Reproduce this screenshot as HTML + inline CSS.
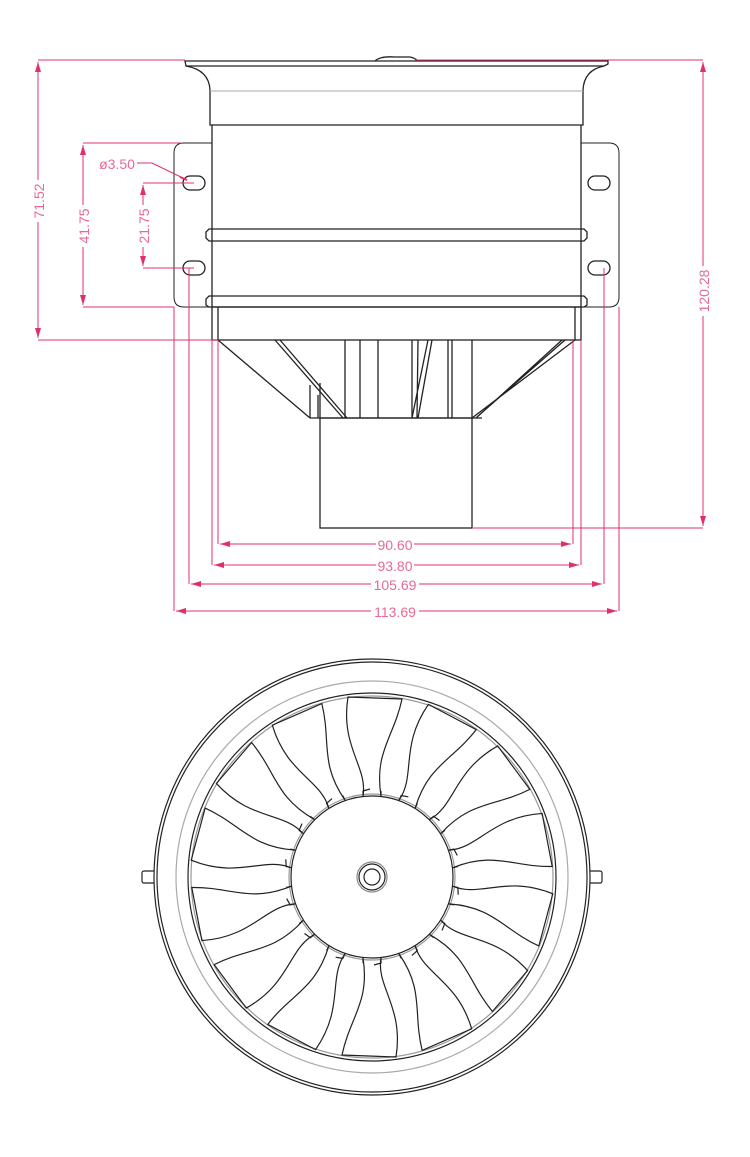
<!DOCTYPE html>
<html><head><meta charset="utf-8"><style>
html,body{margin:0;padding:0;background:#fff;}
svg{display:block}
text{font-family:"Liberation Sans",sans-serif;font-size:14px;fill:#e86a90;}
</style></head><body>
<svg width="750" height="1157" viewBox="0 0 750 1157" xmlns="http://www.w3.org/2000/svg">
<defs>
<marker id="ar" viewBox="0 0 10 6" refX="10" refY="3" markerWidth="10" markerHeight="6" orient="auto-start-reverse"><path d="M0,0L10,3L0,6z" fill="#e0306a"/></marker>
</defs>
<g fill="none" stroke="#222" stroke-width="1.3">
  <path d="M185,61 L608,61 L608,64 L604,66 L186,66 Z"/>
  <path d="M375,61 Q380,56 395,57 L410,57 Q415,58 418,61"/>
  <path d="M186,66 Q209,70 210,90 L210,125 L583,125 L583,90 Q584,70 604,66"/>
  <line x1="210" y1="91" x2="583" y2="91" stroke="#aaa" stroke-width="1"/>
  <path d="M212,125 L212,307 M581,125 L581,307"/>
  <path d="M212,143 L184,143 Q174,143 174,153 L174,297 Q174,307 184,307 L212,307" stroke-width="1"/>
  <path d="M581,143 L609,143 Q619,143 619,153 L619,297 Q619,307 609,307 L581,307" stroke-width="1"/>
  <rect x="183" y="176" width="22" height="14" rx="7"/>
  <rect x="183" y="261" width="22" height="14" rx="7"/>
  <rect x="588" y="176" width="22" height="14" rx="7"/>
  <rect x="588" y="261" width="22" height="14" rx="7"/>
  <path d="M209,229 L584,229 L587,232 L587,238 L584,241 L209,241 L206,238 L206,232 Z"/>
  <path d="M209,296 L584,296 L587,299 L587,305 L584,307 L209,307 L206,305 L206,299 Z"/>
  <rect x="212" y="307" width="369" height="33"/>
  <line x1="218" y1="307" x2="218" y2="340"/>
  <line x1="575" y1="307" x2="575" y2="340"/>
  <path d="M218,340 L310,418 M275,340 L343,418 M280,340 L347,418 M575,340 L472,418 M562,340 L476,418 M565,340 L478,416"/>
  <path d="M345,340 L345,418 M360,340 L360,418 M378,340 L378,418 M412,340 L412,418 M418,340 L417,418 M428,340 L412,418 M432,340 L418,418 M448,340 L448,418 M452,340 L452,418 M472,340 L472,418"/>
  <path d="M310,385 L310,418 M320,383 L320,418 M318,395 L318,418"/>
  <line x1="310" y1="418" x2="482" y2="418"/>
  <rect x="320" y="418" width="152" height="110"/>
</g>
<g stroke="#e0306a" stroke-width="1" fill="none">
  <path d="M38,60 L185,60 M38,340 L218,340 M83,143 L182,143 M83,307 L174,307 M143,183 L194,183 M143,268 L194,268 M415,60 L703,60 M472,528 L703,528"/>
  <line x1="38" y1="62" x2="38" y2="338" marker-start="url(#ar)" marker-end="url(#ar)"/>
  <line x1="83" y1="145" x2="83" y2="305" marker-start="url(#ar)" marker-end="url(#ar)"/>
  <line x1="143" y1="185" x2="143" y2="266" marker-start="url(#ar)" marker-end="url(#ar)"/>
  <line x1="703" y1="62" x2="703" y2="526" marker-start="url(#ar)" marker-end="url(#ar)"/>
  <path d="M137,163 L152,163 L187,180"/>
  <path d="M187,180 L180,177" stroke-width="2"/>
  <path d="M218,340 L218,544 M573,340 L573,544 M212,340 L212,565 M581,340 L581,565 M189,268 L189,584 M604,268 L604,584 M174,307 L174,611 M619,307 L619,611"/>
  <line x1="220" y1="544" x2="571" y2="544" marker-start="url(#ar)" marker-end="url(#ar)"/>
  <line x1="214" y1="565" x2="579" y2="565" marker-start="url(#ar)" marker-end="url(#ar)"/>
  <line x1="191" y1="584" x2="602" y2="584" marker-start="url(#ar)" marker-end="url(#ar)"/>
  <line x1="176" y1="611" x2="617" y2="611" marker-start="url(#ar)" marker-end="url(#ar)"/>
</g>
<g>
  <rect x="30" y="180" width="16" height="42" fill="#fff"/>
  <text transform="translate(44,201) rotate(-90)" text-anchor="middle">71.52</text>
  <rect x="75" y="205" width="16" height="42" fill="#fff"/>
  <text transform="translate(89,226) rotate(-90)" text-anchor="middle">41.75</text>
  <rect x="135" y="205" width="16" height="42" fill="#fff"/>
  <text transform="translate(149,226) rotate(-90)" text-anchor="middle">21.75</text>
  <rect x="695" y="266" width="16" height="50" fill="#fff"/>
  <text transform="translate(709,291) rotate(-90)" text-anchor="middle">120.28</text>
  <text x="117" y="169" text-anchor="middle">ø3.50</text>
  <rect x="376" y="537" width="38" height="14" fill="#fff"/>
  <text x="395" y="550" text-anchor="middle">90.60</text>
  <rect x="376" y="558" width="38" height="14" fill="#fff"/>
  <text x="395" y="571" text-anchor="middle">93.80</text>
  <rect x="371" y="577" width="48" height="14" fill="#fff"/>
  <text x="395" y="590" text-anchor="middle">105.69</text>
  <rect x="371" y="604" width="48" height="14" fill="#fff"/>
  <text x="395" y="617" text-anchor="middle">113.69</text>
</g>
<g fill="none" stroke="#222" stroke-width="1.2" transform="translate(372,877)">
  <rect x="-230" y="-6" width="14" height="12" rx="2"/>
  <rect x="216" y="-6" width="14" height="12" rx="2"/>
  <circle r="218" fill="#fff"/>
  <circle r="215"/>
  <circle r="196" stroke="#aaa"/>
  <circle r="184"/>
  <circle r="181" stroke="#999"/>
  <circle r="83" stroke="#999"/>
  <circle r="81"/>
  <circle r="15" stroke="#888"/>
  <circle r="13"/>
  <circle r="8"/>
  <g id="bl">
    <path d="M-9,-81 C-4,-110 -32,-130 -24,-180 L30,-178 C22,-140 2,-125 9,-81"/>
    <path d="M-9,-81 L-9,-86 L-2,-88 M9,-81 L9,-86"/>
  </g>
  <use href="#bl" transform="rotate(25.7)"/>
  <use href="#bl" transform="rotate(51.4)"/>
  <use href="#bl" transform="rotate(77.1)"/>
  <use href="#bl" transform="rotate(102.9)"/>
  <use href="#bl" transform="rotate(128.6)"/>
  <use href="#bl" transform="rotate(154.3)"/>
  <use href="#bl" transform="rotate(180)"/>
  <use href="#bl" transform="rotate(205.7)"/>
  <use href="#bl" transform="rotate(231.4)"/>
  <use href="#bl" transform="rotate(257.1)"/>
  <use href="#bl" transform="rotate(282.9)"/>
  <use href="#bl" transform="rotate(308.6)"/>
  <use href="#bl" transform="rotate(334.3)"/>
</g>
</svg>
</body></html>
